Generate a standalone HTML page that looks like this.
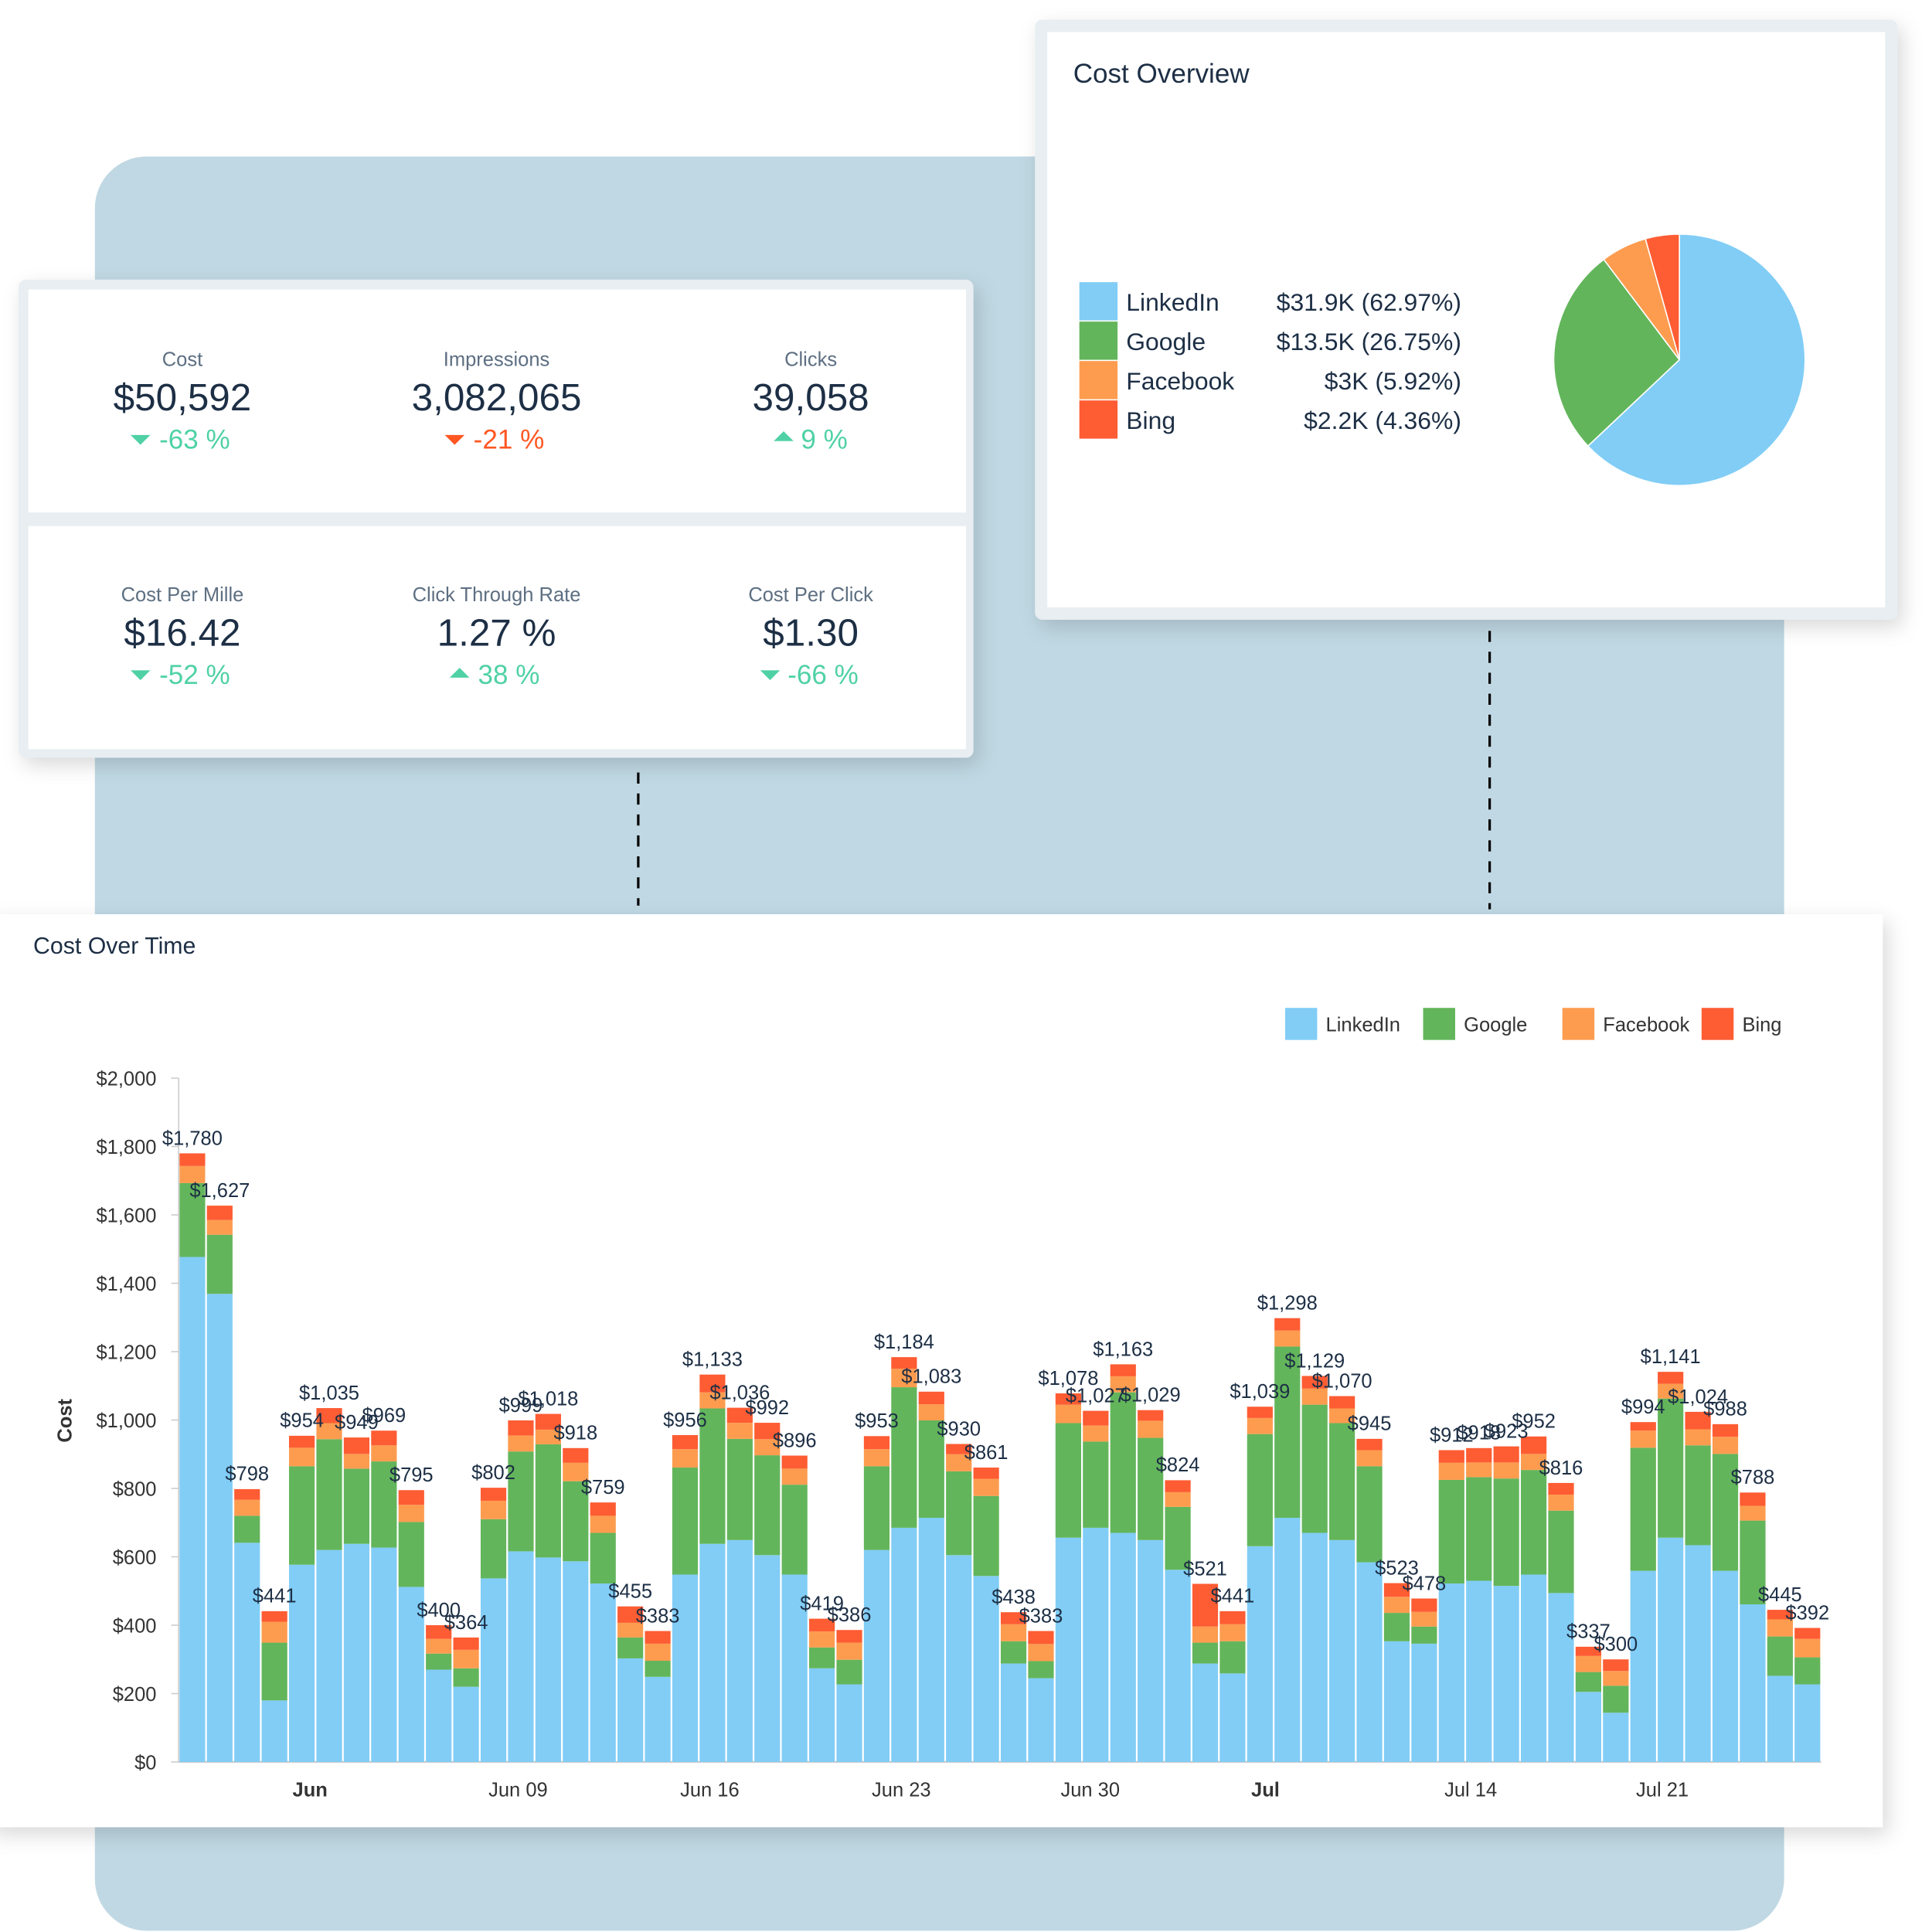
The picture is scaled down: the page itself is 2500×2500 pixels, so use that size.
<!DOCTYPE html>
<html><head><meta charset="utf-8"><style>
html,body{margin:0;padding:0;background:#fff;}
svg{display:block;font-family:"Liberation Sans",Arial,sans-serif;}
</style></head><body>
<svg id="root" width="2500" height="2500" viewBox="0 0 1568 1568" xmlns="http://www.w3.org/2000/svg">
<defs>
<filter id="sh" x="-10%" y="-10%" width="125%" height="130%"><feDropShadow dx="4" dy="6" stdDeviation="8" flood-color="#000" flood-opacity="0.15"/></filter>
</defs>
<rect x="77" y="127" width="1371" height="1440" rx="42" fill="#c0d8e3"/>
<line x1="518" y1="627" x2="518" y2="735" stroke="#000" stroke-width="2" stroke-dasharray="9,8"/>
<line x1="1209" y1="512" x2="1209" y2="738" stroke="#000" stroke-width="2" stroke-dasharray="9,8"/>

<!-- KPI card -->
<g>
<rect x="15" y="227" width="775" height="388" rx="6" fill="#e8eef1" filter="url(#sh)"/>
<rect x="23" y="235" width="761" height="181" fill="#fff"/>
<rect x="23" y="427" width="761" height="181" fill="#fff"/>
<g text-anchor="middle">
<text x="148" y="297" font-size="16" fill="#5d6f82">Cost</text>
<text x="148" y="333" font-size="31" fill="#1d2f45">$50,592</text>
<text x="158" y="364" font-size="22" fill="#4fd1a5">-63 %</text>
<path d="M106 353h16l-8 8z" fill="#4fd1a5"/>
<text x="403" y="297" font-size="16" fill="#5d6f82">Impressions</text>
<text x="403" y="333" font-size="31" fill="#1d2f45">3,082,065</text>
<text x="413" y="364" font-size="22" fill="#ff5722">-21 %</text>
<path d="M361 353h16l-8 8z" fill="#ff5722"/>
<text x="658" y="297" font-size="16" fill="#5d6f82">Clicks</text>
<text x="658" y="333" font-size="31" fill="#1d2f45">39,058</text>
<text x="669" y="364" font-size="22" fill="#4fd1a5">9 %</text>
<path d="M628 358h16l-8-8z" fill="#4fd1a5"/>
<text x="148" y="488" font-size="16" fill="#5d6f82">Cost Per Mille</text>
<text x="148" y="524" font-size="31" fill="#1d2f45">$16.42</text>
<text x="158" y="555" font-size="22" fill="#4fd1a5">-52 %</text>
<path d="M106 544h16l-8 8z" fill="#4fd1a5"/>
<text x="403" y="488" font-size="16" fill="#5d6f82">Click Through Rate</text>
<text x="403" y="524" font-size="31" fill="#1d2f45">1.27 %</text>
<text x="413" y="555" font-size="22" fill="#4fd1a5">38 %</text>
<path d="M365 550h16l-8-8z" fill="#4fd1a5"/>
<text x="658" y="488" font-size="16" fill="#5d6f82">Cost Per Click</text>
<text x="658" y="524" font-size="31" fill="#1d2f45">$1.30</text>
<text x="668" y="555" font-size="22" fill="#4fd1a5">-66 %</text>
<path d="M617 544h16l-8 8z" fill="#4fd1a5"/>
</g>
</g>

<!-- Cost overview card -->
<g>
<rect x="840" y="16" width="700" height="487" rx="6" fill="#e8eef1" filter="url(#sh)"/>
<rect x="850" y="26" width="680" height="467" fill="#fff"/>
<text x="871" y="67" font-size="22" fill="#1d2f45">Cost Overview</text>
<g id="pieLegend"></g>
<g id="pie"></g>
</g>

<!-- Cost over time card -->
<g>
<rect x="-10" y="742" width="1538" height="741" fill="#fff" filter="url(#sh)"/>
<text x="27" y="774" font-size="19" fill="#1d2f45">Cost Over Time</text>
<g id="chartLegend"></g>
<g id="axes"></g>
<g id="bars"></g>
<g id="labels"></g>
</g>
</svg>
<script>
const NS='http://www.w3.org/2000/svg';
const pieNames=['LinkedIn','Google','Facebook','Bing'];
const pieValues=[62.97,26.75,5.92,4.36];
const pieLabels=['$31.9K (62.97%)','$13.5K (26.75%)','$3K (5.92%)','$2.2K (4.36%)'];
const colors=['#81cdf6','#63b55b','#fd9c4f','#fe5c33'];

const dates=Array.from({length:60},(_,i)=>'d'+i);
const linkedin=[1477,1369,641,180,577,620,638,627,512,270,220,537,616,598,587,522,303,249,548,638,649,605,548,274,227,620,685,714,605,544,288,245,656,685,670,649,562,288,259,631,714,670,649,584,353,346,522,530,515,548,494,205,144,559,656,634,559,461,252,227];
const google=[216,173,79,169,288,324,220,252,190,47,54,173,292,331,234,148,61,47,313,396,296,292,263,61,72,245,411,285,245,234,65,50,335,252,411,299,184,61,94,328,501,375,342,281,83,50,303,303,314,306,241,58,79,360,407,292,342,245,115,79];
const facebook=[50,43,47,61,54,47,43,47,50,43,54,54,47,43,54,50,43,50,54,47,47,47,47,47,50,50,54,47,50,50,50,50,54,47,47,50,43,47,50,47,47,47,43,47,47,43,50,43,47,47,47,47,43,50,43,47,50,43,50,54];
const bing=[37,42,31,31,35,44,48,43,43,40,36,38,44,46,43,39,48,37,41,52,44,48,38,37,37,38,34,37,30,33,35,38,33,43,35,31,35,125,38,33,36,37,36,33,40,39,37,42,47,51,34,27,34,25,35,51,37,39,28,32];
const yTicks=[0,200,400,600,800,1000,1200,1400,1600,1800,2000];
const xTickLabels=['Jun','Jun 09','Jun 16','Jun 23','Jun 30','Jul','Jul 14','Jul 21'];
const xTickIdx=[4.3,11.9,18.9,25.9,32.8,39.2,46.7,53.7];
const xTickBold=[true,false,false,false,false,true,false,false];

function el(tag,attrs,parent){const e=document.createElementNS(NS,tag);for(const k in attrs)e.setAttribute(k,attrs[k]);parent.appendChild(e);return e;}

// Pie legend
const pl=document.getElementById('pieLegend');
pieNames.forEach((n,i)=>{
  const y=229+i*32;
  const r=el('rect',{x:876,y:y,width:31,height:31,fill:colors[i]},pl);
  
  
  const t=el('text',{x:914,y:y+23,'font-size':20,fill:'#1d2f45'},pl);t.textContent=n;
  
  
  const v=el('text',{x:1186,y:y+23,'font-size':20,fill:'#1d2f45','text-anchor':'end'},pl);v.textContent=pieLabels[i];
  
  
});
// Pie
const pg=document.getElementById('pie');
const cx=1363,cy=292,R=102;
const tot=pieValues.reduce((a,b)=>a+b,0);
let ang=-Math.PI/2;
pieValues.forEach((v,i)=>{
  const a2=ang+v/tot*2*Math.PI;
  const large=(a2-ang)>Math.PI?1:0;
  const d=`M${cx},${cy}L${cx+R*Math.cos(ang)},${cy+R*Math.sin(ang)}A${R},${R} 0 ${large} 1 ${cx+R*Math.cos(a2)},${cy+R*Math.sin(a2)}Z`;
  const p=el('path',{d:d,fill:colors[i],stroke:'#fff','stroke-width':1},pg);
  
  
  ang=a2;
});

// Chart legend
const cl=document.getElementById('chartLegend');
const legX=[1043,1155,1268,1381];
pieNames.forEach((n,i)=>{
  const r=el('rect',{x:legX[i],y:818,width:26,height:26,fill:colors[i]},cl);
  
  
  const t=el('text',{x:legX[i]+33,y:837,'font-size':16,fill:'#333'},cl);t.textContent=n;
  
  
});

// Axes
const X0=145,X1=1478,Y0=1430,Ytop=875,YMAX=2000;
const band=(X1-X0)/dates.length;
const yScale=v=>Y0-v/YMAX*(Y0-Ytop);
const xCenter=i=>X0+band*(i+0.5);
const ax=document.getElementById('axes');
let a=el('line',{x1:X0,y1:Ytop,x2:X0,y2:Y0,stroke:'#ccc','stroke-width':1},ax);


a=el('line',{x1:X0,y1:Y0,x2:X1,y2:Y0,stroke:'#ccc','stroke-width':1.5},ax);


yTicks.forEach(v=>{
  const t=el('text',{x:127,y:yScale(v)+6,'font-size':16,fill:'#333','text-anchor':'end'},ax);
  t.textContent='$'+v.toLocaleString('en-US');
  
  
  const tk=el('line',{x1:X0-6,y1:yScale(v),x2:X0,y2:yScale(v),stroke:'#ccc'},ax);
  
  
});
xTickLabels.forEach((l,i)=>{
  const t=el('text',{x:xCenter(xTickIdx[i]),y:1458,'font-size':16,fill:'#333','text-anchor':'middle','font-weight':xTickBold[i]?'bold':'normal'},ax);
  t.textContent=l;
  
  
});
const yt=el('text',{x:58,y:1153,'font-size':16,'font-weight':'bold',fill:'#333','text-anchor':'middle',transform:'rotate(-90 58 1153)'},ax);
yt.textContent='Cost';



// Bars
const bg=document.getElementById('bars');
const lg=document.getElementById('labels');
const series=[linkedin,google,facebook,bing];
dates.forEach((d,i)=>{
  let base=0;
  const x=X0+band*i+0.7;
  series.forEach((s,k)=>{
    const y1=yScale(base),y2=yScale(base+s[i]);
    const r=el('rect',{x:x,y:y2,width:band-1.4,height:y1-y2,fill:colors[k]},bg);
    
    
    base+=s[i];
  });
  const t=el('text',{x:xCenter(i),y:yScale(base)-7,'font-size':16,fill:'#1d2f45','text-anchor':'middle'},lg);
  t.textContent='$'+Math.round(base).toLocaleString('en-US');
  
  
});
</script>
</body></html>
